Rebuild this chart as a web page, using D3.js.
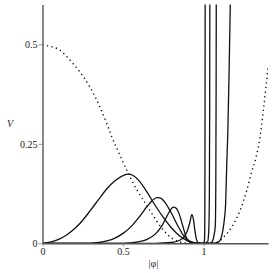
<!DOCTYPE html>
<html>
<head>
<meta charset="utf-8">
<script src="https://cdn.jsdelivr.net/npm/d3@7"></script>
<style>
  body { margin: 0; background: #fff; }
  svg { display: block; }
</style>
</head>
<body>
<svg id="canvas" width="273" height="273"></svg>
<script>
// values: |phi| and V
let xTicks = [0, 0.5, 1];
let yTicks = [0, 0.25, 0.5];

let phiDot = [0, 0.026, 0.109, 0.171, 0.233, 0.295, 0.357, 0.399, 0.43, 0.48, 0.53, 0.585, 0.637, 0.668, 0.709, 0.771, 0.834, 0.9, 1.0, 1.05, 1.092, 1.13, 1.175, 1.227, 1.268, 1.299, 1.325, 1.35, 1.371, 1.4];
let vDot   = [0.5, 0.497, 0.485, 0.46, 0.43, 0.392, 0.342, 0.301, 0.268, 0.222, 0.178, 0.135, 0.102, 0.082, 0.056, 0.024, 0.006, 0.0008, 0, 0.0003, 0.004, 0.018, 0.041, 0.083, 0.133, 0.18, 0.215, 0.265, 0.334, 0.44];

let phiA = [0, 0.05, 0.1, 0.15, 0.2, 0.25, 0.3, 0.35, 0.4, 0.45, 0.5, 0.53, 0.56, 0.6, 0.65, 0.7, 0.75, 0.8, 0.85, 0.9, 0.95, 1.0, 1.06, 1.092, 1.11, 1.12, 1.129, 1.137, 1.144, 1.15, 1.158, 1.166, 1.169];
let vA   = [0, 0.003, 0.01, 0.021, 0.037, 0.058, 0.084, 0.111, 0.137, 0.157, 0.17, 0.174, 0.171, 0.157, 0.128, 0.095, 0.065, 0.039, 0.019, 0.006, 0.001, 0, 0.0005, 0.003, 0.015, 0.033, 0.06, 0.1, 0.2, 0.27, 0.42, 0.6, 0.65];

let phiB = [0, 0.3, 0.35, 0.4, 0.45, 0.5, 0.55, 0.6, 0.65, 0.68, 0.71, 0.73, 0.76, 0.8, 0.84, 0.88, 0.92, 0.96, 1.0, 1.04, 1.051, 1.065, 1.073, 1.076, 1.078, 1.079];
let vB   = [0, 0, 0.002, 0.006, 0.013, 0.025, 0.042, 0.066, 0.093, 0.107, 0.115, 0.114, 0.103, 0.076, 0.044, 0.017, 0.004, 0.0005, 0, 0.0005, 0.003, 0.02, 0.045, 0.15, 0.4, 0.65];

let phiC = [0, 0.5, 0.6, 0.65, 0.7, 0.74, 0.77, 0.795, 0.812, 0.83, 0.85, 0.87, 0.89, 0.91, 0.94, 1.0, 1.025, 1.032, 1.036, 1.038, 1.039];
let vC   = [0, 0, 0.004, 0.01, 0.023, 0.043, 0.066, 0.084, 0.091, 0.088, 0.072, 0.045, 0.018, 0.004, 0.0005, 0, 0.004, 0.03, 0.12, 0.35, 0.65];

let phiD = [0, 0.7, 0.8, 0.85, 0.88, 0.9, 0.915, 0.927, 0.937, 0.947, 0.957, 0.97, 0.99, 1.0, 1.006, 1.008, 1.009, 1.01];
let vD   = [0, 0, 0.002, 0.007, 0.017, 0.032, 0.053, 0.072, 0.06, 0.03, 0.008, 0.001, 0, 0.0005, 0.01, 0.08, 0.3, 0.65];

let canvas = d3.select('#canvas');
let serif = '"Times New Roman", "Liberation Serif", Times, serif';

let xScale = d3.scaleLinear().domain([0, 1.4]).range([42.5, 268]);
let yScale = d3.scaleLinear().domain([0, 0.6]).range([243.3, 4.5]);

canvas.append('clipPath')
	.attr('id', 'plot')
	.append('rect')
	.attr('x', xScale(0))
	.attr('y', yScale(0.6))
	.attr('width', xScale(1.4) - xScale(0))
	.attr('height', yScale(0) - yScale(0.6));

let toPoints = (xs, ys) => xs.map((x, i) => [x, ys[i]]);

let line = d3.line()
	.x((d) => xScale(d[0]))
	.y((d) => yScale(d[1]))
	.curve(d3.curveMonotoneX);

let curves = canvas.append('g').attr('clip-path', 'url(#plot)');

[[phiA, vA], [phiB, vB], [phiC, vC], [phiD, vD]].forEach((c) => {
	curves.append('path')
		.attr('d', line(toPoints(c[0], c[1])))
		.attr('fill', 'none')
		.attr('stroke', '#111')
		.attr('stroke-width', 1.3);
});

curves.append('path')
	.attr('d', line(toPoints(phiDot, vDot)))
	.attr('fill', 'none')
	.attr('stroke', '#111')
	.attr('stroke-width', 1.4)
	.attr('stroke-dasharray', '1.3,3.3');

let xAxis = d3.axisBottom(xScale)
	.tickValues(xTicks)
	.tickFormat((d) => String(d))
	.tickSize(3)
	.tickSizeOuter(0)
	.tickPadding(2);

let yAxis = d3.axisLeft(yScale)
	.tickValues(yTicks)
	.tickFormat((d) => String(d))
	.tickSize(4)
	.tickSizeOuter(0)
	.tickPadding(1);

let gx = canvas.append('g')
	.attr('transform', `translate(0, ${yScale(0)})`)
	.call(xAxis);

let gy = canvas.append('g')
	.attr('transform', `translate(${xScale(0)}, 0)`)
	.call(yAxis);

[gx, gy].forEach((g) => {
	g.attr('font-family', serif).attr('font-size', 10);
	g.select('.domain').attr('stroke', '#555').attr('stroke-width', 1.4);
	g.selectAll('.tick line').attr('stroke', '#777').attr('stroke-width', 0.8);
	g.selectAll('.tick text').attr('fill', '#222');
});

canvas.append('text')
	.attr('x', 10)
	.attr('y', 127)
	.attr('text-anchor', 'middle')
	.attr('font-family', serif)
	.attr('font-style', 'italic')
	.attr('font-size', 10)
	.attr('fill', '#222')
	.text('V');

canvas.append('text')
	.attr('x', 153.5)
	.attr('y', 267)
	.attr('text-anchor', 'middle')
	.attr('font-family', serif)
	.attr('font-size', 10)
	.attr('fill', '#222')
	.text('|φ|');
</script>
</body>
</html>
